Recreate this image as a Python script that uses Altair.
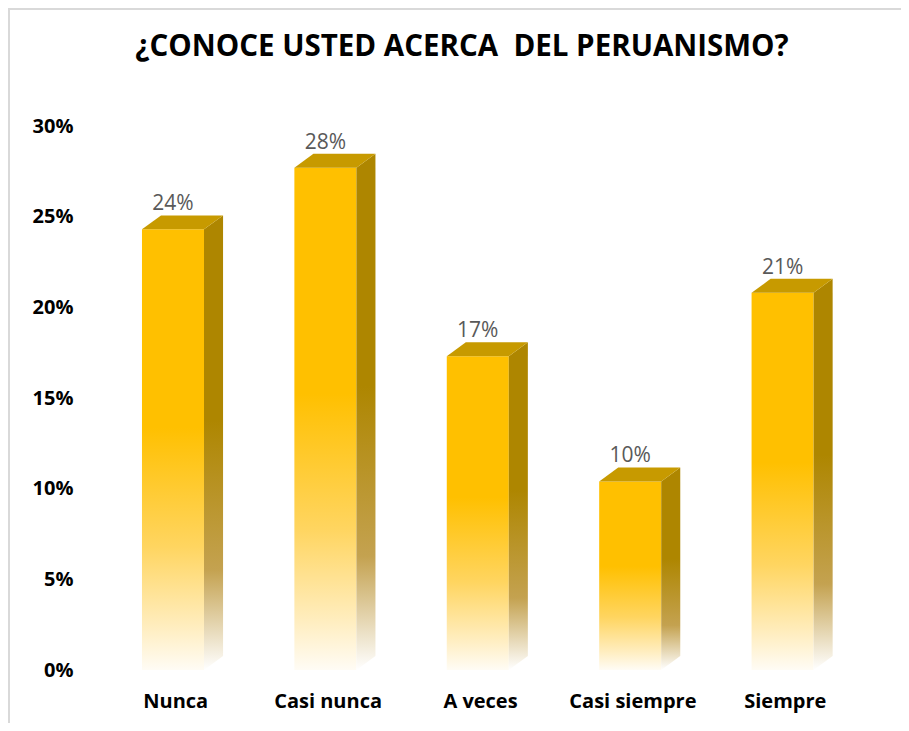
import altair as alt
import pandas as pd

categories = ["Nunca", "Casi nunca", "A veces", "Casi siempre", "Siempre"]
values = [0.243, 0.277, 0.173, 0.104, 0.208]
y_ticks = [0, 0.05, 0.10, 0.15, 0.20, 0.25, 0.30]
title_text = "¿CONOCE USTED ACERCA \u00a0DEL PERUANISMO?"

# 3D geometry (in scale units)
FL, FR, DX, DY = 0.282, 0.689, 0.125, 0.0077

front_rows, side_rows, top_rows, lab_rows = [], [], [], []
for i, (c, v) in enumerate(zip(categories, values)):
    front_rows.append(dict(cat=c, x=i + FL, x2=i + FR, y=0, y2=v))
    side_rows += [dict(cat=c, x=i + FR, y=0, y2=v),
                  dict(cat=c, x=i + FR + DX, y=DY, y2=v + DY)]
    top_rows += [dict(cat=c, x=i + FL, y=v, y2=v),
                 dict(cat=c, x=i + FL + DX, y=v, y2=v + DY),
                 dict(cat=c, x=i + FR, y=v, y2=v + DY),
                 dict(cat=c, x=i + FR + DX, y=v + DY, y2=v + DY)]
    lab_rows.append(dict(cat=c, x=i + (FL + FR) / 2, y=v + DY, v=v))

front = pd.DataFrame(front_rows)
side = pd.DataFrame(side_rows)
top = pd.DataFrame(top_rows)
labs = pd.DataFrame(lab_rows)

label_expr = " : ".join(
    [f"round(datum.value*2) == {2*i+1} ? '{c}'" for i, c in enumerate(categories)]
) + " : ''"

xscale = alt.Scale(domain=[0, len(categories)], nice=False, zero=False)
yscale = alt.Scale(domain=[0, 0.30], nice=False)

xaxis = alt.Axis(values=[i + 0.5 for i in range(len(categories))], labelExpr=label_expr,
                 title=None, ticks=False, domain=False, grid=False,
                 labelFont="Open Sans", labelFontWeight="bold", labelFontSize=20,
                 labelColor="#000000", labelPadding=21)
yaxis = alt.Axis(values=y_ticks, format=".0%", title=None, ticks=False, domain=False,
                 grid=False, labelFont="Open Sans", labelFontWeight="bold",
                 labelFontSize=20, labelColor="#000000", labelPadding=26)

front_grad = alt.Gradient(gradient="linear", x1=0, y1=0, x2=0, y2=1, stops=[
    alt.GradientStop(color="#FFC000", offset=0),
    alt.GradientStop(color="#FFC000", offset=0.45),
    alt.GradientStop(color="#FFD560", offset=0.72),
    alt.GradientStop(color="#FFEDBE", offset=0.90),
    alt.GradientStop(color="#FFFCF5", offset=1),
])
side_grad = alt.Gradient(gradient="linear", x1=0, y1=0, x2=0, y2=1, stops=[
    alt.GradientStop(color="#AE8600", offset=0),
    alt.GradientStop(color="#AE8600", offset=0.45),
    alt.GradientStop(color="#C4A250", offset=0.78),
    alt.GradientStop(color="#FFFFFF", offset=1),
])

one = pd.DataFrame({"a": [0]})
border = alt.Chart(one).mark_rect(
    fill="transparent", stroke="#D9D9D9", strokeWidth=2
).encode(x=alt.value(-90), x2=alt.value(830), y=alt.value(-117), y2=alt.value(640))

title = alt.Chart(one).mark_text(
    text=title_text, font="Open Sans", fontSize=29.5, fontWeight="bold",
    color="#000000", align="center", baseline="middle"
).encode(x=alt.value(363), y=alt.value(-79))

fr = alt.Chart(front).mark_rect(fill=front_grad).encode(
    x=alt.X("x:Q", scale=xscale, axis=xaxis), x2="x2:Q",
    y=alt.Y("y:Q", scale=yscale, axis=yaxis), y2="y2:Q")

sd = alt.Chart(side).mark_area(fill=side_grad, interpolate="linear").encode(
    x=alt.X("x:Q", scale=xscale), y=alt.Y("y:Q", scale=yscale), y2="y2:Q",
    detail="cat:N")

tp = alt.Chart(top).mark_area(fill="#C79A00", interpolate="linear").encode(
    x=alt.X("x:Q", scale=xscale), y=alt.Y("y:Q", scale=yscale), y2="y2:Q",
    detail="cat:N")

tx = alt.Chart(labs).mark_text(font="Open Sans", fontSize=21, color="#595959",
                                baseline="bottom", dy=-1).encode(
    x=alt.X("x:Q", scale=xscale), y=alt.Y("y:Q", scale=yscale),
    text=alt.Text("v:Q", format=".0%"))

chart = alt.layer(border, title, fr, sd, tp, tx).properties(
    width=762, height=544,
    autosize=alt.AutoSizeParams(type="none"),
    padding={"left": 91, "top": 118, "right": 40, "bottom": 53},
    background="#FFFFFF",
).configure_view(stroke=None)

chart.save("out.html", embed_options={"renderer": "svg", "actions": False})
